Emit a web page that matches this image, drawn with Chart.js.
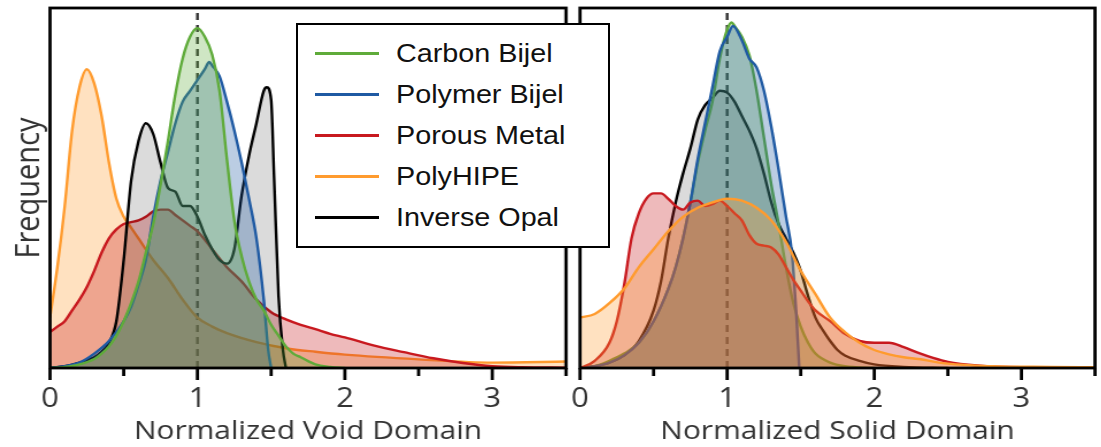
<!DOCTYPE html>
<html>
<head>
<meta charset="utf-8">
<script src="https://cdn.jsdelivr.net/npm/chart.js@4.4.1/dist/chart.umd.min.js"></script>
<style>
  html, body { margin:0; padding:0; background:#fff; }
  #wrap { position:relative; width:1101px; height:447px; overflow:hidden; }
  /* the source figure is stretched ~1.15x sideways, so the canvases are too */
  .stretch { position:absolute; top:0; transform:scaleX(1.15); transform-origin:0 0; }
  #legend { position:absolute; left:296px; top:23px; width:314px; height:225px; box-sizing:border-box;
            border:2.5px solid #000; background:#fff; font:25px "Liberation Sans", Arial, sans-serif; color:#111; }
  #legend .row { position:absolute; left:17px; height:30px; display:flex; align-items:center; white-space:nowrap; }
  #legend .sw { width:64px; height:3px; margin-right:17px; }
  #legend .tx { display:inline-block; transform:scaleX(1.15); transform-origin:0 50%; }
</style>
</head>
<body>
<div id="wrap">
  <div class="stretch" style="left:0"><canvas id="voidChart" width="505" height="447"></canvas></div>
  <div class="stretch" style="left:555px"><canvas id="solidChart" width="476" height="447"></canvas></div>
  <div id="legend"></div>
</div>
<script>
// series names + colours (legend order)
const names = ['Carbon Bijel','Polymer Bijel','Porous Metal','PolyHIPE','Inverse Opal'];
const lineColors = ['#5fab3a','#1f5aa3','#c8191f','#ff9b2e','#000000'];
const fillColors = ['rgba(95,171,58,0.3)','rgba(31,90,163,0.3)','rgba(200,25,31,0.3)','rgba(255,155,46,0.3)','rgba(0,0,0,0.14)'];
const xTickLabels = ['0','1','2','3'];

// Normalized Void Domain  [x, frequency]
const voidCarbon = [[0,0],[0.1,0.003],[0.2,0.01],[0.3,0.025],[0.35,0.04],[0.4,0.06],[0.45,0.09],[0.5,0.13],[0.55,0.18],[0.6,0.24],[0.65,0.32],[0.7,0.40],[0.75,0.51],[0.8,0.63],[0.85,0.76],[0.9,0.86],[0.95,0.92],[1.0,0.944],[1.05,0.92],[1.1,0.87],[1.15,0.77],[1.2,0.58],[1.25,0.41],[1.3,0.31],[1.35,0.24],[1.4,0.19],[1.45,0.16],[1.5,0.12],[1.55,0.09],[1.6,0.06],[1.65,0.04],[1.7,0.03],[1.8,0.01],[1.9,0.003],[2.0,0]];
const voidPolymer = [[0,0],[0.1,0.005],[0.2,0.015],[0.3,0.04],[0.4,0.075],[0.5,0.13],[0.55,0.17],[0.6,0.23],[0.65,0.30],[0.7,0.42],[0.75,0.52],[0.8,0.60],[0.85,0.68],[0.9,0.74],[0.95,0.77],[1.0,0.80],[1.05,0.83],[1.08,0.85],[1.1,0.84],[1.15,0.81],[1.2,0.74],[1.25,0.66],[1.3,0.57],[1.35,0.47],[1.4,0.36],[1.45,0.19],[1.48,0.05],[1.5,0]];
const voidMetal = [[0,0.10],[0.05,0.115],[0.1,0.13],[0.15,0.16],[0.2,0.19],[0.25,0.225],[0.3,0.27],[0.35,0.32],[0.4,0.36],[0.45,0.385],[0.5,0.40],[0.55,0.405],[0.6,0.41],[0.65,0.42],[0.7,0.435],[0.75,0.44],[0.8,0.44],[0.85,0.425],[0.9,0.41],[0.95,0.395],[1.0,0.38],[1.1,0.33],[1.2,0.28],[1.3,0.24],[1.4,0.19],[1.5,0.155],[1.6,0.135],[1.7,0.12],[1.8,0.108],[1.9,0.095],[2.0,0.085],[2.2,0.062],[2.4,0.044],[2.6,0.027],[2.8,0.014],[3.0,0.005],[3.2,0.002],[3.5,0.001]];
const voidHipe = [[0,0.14],[0.05,0.28],[0.1,0.45],[0.15,0.66],[0.2,0.78],[0.25,0.83],[0.3,0.79],[0.35,0.70],[0.4,0.57],[0.45,0.47],[0.5,0.42],[0.55,0.39],[0.6,0.36],[0.7,0.30],[0.8,0.25],[0.9,0.19],[1.0,0.14],[1.1,0.115],[1.2,0.097],[1.4,0.072],[1.6,0.055],[1.8,0.045],[2.0,0.037],[2.5,0.024],[3.0,0.015],[3.5,0.018]];
const voidOpal = [[0,0],[0.1,0.005],[0.2,0.015],[0.3,0.03],[0.35,0.045],[0.4,0.07],[0.45,0.13],[0.5,0.30],[0.55,0.52],[0.6,0.63],[0.65,0.68],[0.7,0.65],[0.75,0.57],[0.8,0.50],[0.85,0.49],[0.9,0.45],[0.95,0.45],[1.0,0.42],[1.05,0.37],[1.1,0.33],[1.15,0.30],[1.2,0.29],[1.25,0.33],[1.3,0.48],[1.35,0.59],[1.4,0.68],[1.45,0.77],[1.47,0.78],[1.5,0.745],[1.52,0.53],[1.55,0.20],[1.58,0.05],[1.6,0]];

// Normalized Solid Domain  [x, frequency]
const solidCarbon = [[0,0],[0.1,0.005],[0.2,0.02],[0.3,0.04],[0.4,0.07],[0.5,0.13],[0.6,0.22],[0.65,0.28],[0.7,0.36],[0.75,0.46],[0.8,0.57],[0.85,0.66],[0.9,0.74],[0.95,0.86],[1.0,0.94],[1.03,0.96],[1.05,0.95],[1.1,0.92],[1.15,0.87],[1.2,0.77],[1.25,0.64],[1.3,0.51],[1.35,0.40],[1.4,0.28],[1.45,0.18],[1.5,0.115],[1.55,0.07],[1.6,0.04],[1.7,0.015],[1.8,0.005],[2.0,0]];
const solidPolymer = [[0,0],[0.1,0.005],[0.2,0.015],[0.3,0.035],[0.4,0.07],[0.5,0.13],[0.6,0.22],[0.65,0.28],[0.7,0.36],[0.75,0.46],[0.8,0.58],[0.85,0.68],[0.9,0.78],[0.95,0.88],[1.0,0.92],[1.04,0.95],[1.1,0.91],[1.15,0.86],[1.2,0.835],[1.25,0.77],[1.3,0.67],[1.35,0.55],[1.4,0.42],[1.44,0.32],[1.47,0.15],[1.49,0]];
const solidMetal = [[0,0],[0.1,0.02],[0.2,0.07],[0.25,0.13],[0.3,0.23],[0.35,0.36],[0.4,0.43],[0.45,0.47],[0.5,0.485],[0.55,0.485],[0.6,0.47],[0.65,0.45],[0.7,0.44],[0.75,0.46],[0.8,0.465],[0.85,0.45],[0.9,0.455],[0.95,0.465],[1.0,0.45],[1.05,0.43],[1.1,0.41],[1.15,0.37],[1.2,0.345],[1.25,0.34],[1.3,0.335],[1.35,0.315],[1.4,0.28],[1.45,0.245],[1.5,0.215],[1.55,0.185],[1.6,0.16],[1.7,0.13],[1.8,0.095],[1.9,0.075],[2.0,0.07],[2.1,0.07],[2.2,0.058],[2.3,0.042],[2.4,0.028],[2.5,0.017],[2.7,0.007],[3.0,0.002],[3.5,0.001]];
const solidHipe = [[0,0.14],[0.1,0.15],[0.2,0.18],[0.3,0.22],[0.4,0.28],[0.5,0.33],[0.6,0.38],[0.7,0.42],[0.8,0.445],[0.9,0.46],[1.0,0.47],[1.1,0.465],[1.2,0.445],[1.3,0.41],[1.4,0.35],[1.5,0.27],[1.6,0.205],[1.7,0.14],[1.8,0.10],[1.9,0.07],[2.0,0.05],[2.1,0.038],[2.2,0.03],[2.3,0.025],[2.5,0.012],[2.8,0.005],[3.2,0.003],[3.5,0.002]];
const solidOpal = [[0,0],[0.1,0.005],[0.2,0.015],[0.3,0.035],[0.4,0.075],[0.5,0.16],[0.55,0.24],[0.6,0.36],[0.65,0.46],[0.7,0.54],[0.75,0.61],[0.8,0.69],[0.85,0.73],[0.9,0.75],[0.95,0.77],[1.0,0.765],[1.05,0.74],[1.1,0.70],[1.15,0.66],[1.2,0.61],[1.25,0.54],[1.3,0.46],[1.35,0.40],[1.4,0.36],[1.45,0.32],[1.5,0.27],[1.55,0.20],[1.6,0.14],[1.65,0.105],[1.7,0.075],[1.75,0.05],[1.8,0.035],[1.9,0.02],[2.0,0.01],[2.2,0.003],[2.5,0]];

// legend (spans both panels, so plain html on top)
const leg = document.getElementById('legend');
names.forEach((n,i)=>{
  const r = document.createElement('div'); r.className='row'; r.style.top = (13 + i*41) + 'px';
  r.innerHTML = `<span class="sw" style="background:${lineColors[i]}"></span><span class="tx">${n}</span>`;
  leg.appendChild(r);
});

const frame = {
  id:'frame',
  afterDatasetsDraw(chart){
    const {ctx, chartArea:a, scales:{x}} = chart;
    ctx.save(); ctx.strokeStyle='#000'; ctx.lineWidth=2.8;
    ctx.strokeRect(a.left, a.top, a.right-a.left, a.bottom-a.top);
    x.ticks.forEach(t=>{
      const px = x.getPixelForValue(t.value);
      const len = Number.isInteger(t.value) ? 12 : 8;
      ctx.beginPath(); ctx.moveTo(px, a.bottom); ctx.lineTo(px, a.bottom+len); ctx.stroke();
    });
    ctx.restore();
  }
};

const pts = arr => arr.map(([x,y])=>({x,y}));
function ds(i, arr, order){
  return { label:names[i], data:pts(arr), borderColor:lineColors[i], backgroundColor:fillColors[i], borderWidth:2.4,
           fill:'origin', pointRadius:0, cubicInterpolationMode:'monotone', order };
}
const dashLine = { data:[{x:1,y:0},{x:1,y:1}], borderColor:'#333', borderDash:[7,5], borderWidth:2.4, pointRadius:0, fill:false, order:10 };

function make(id, datasets, xTitle, yTitle, yWidth, padRight){
  return new Chart(document.getElementById(id), {
    type:'line',
    data:{ datasets:[dashLine, ...datasets] },
    options:{
      responsive:false, animation:false,
      layout:{ padding:{ top:8, right:padRight, left:0, bottom:0 } },
      plugins:{ legend:{display:false}, tooltip:{enabled:false} },
      scales:{
        x:{ type:'linear', min:0, max:3.5,
            ticks:{ stepSize:0.5, autoSkip:false, maxRotation:0, padding:3, color:'#333',
                    font:{family:'Open Sans', size:27},
                    callback:v=> Number.isInteger(v) ? xTickLabels[v] : '' },
            grid:{ display:true, drawOnChartArea:false, tickLength:12, color:'rgba(0,0,0,0)' },
            border:{ display:false },
            title:{ display:true, text:xTitle, color:'#333', padding:0, font:{family:'Open Sans', size:26} },
            afterFit:s=>{ s.height = 79; } },
        y:{ min:0, max:1,
            ticks:{ display:false }, grid:{ display:false }, border:{ display:false },
            title:{ display:!!yTitle, text:yTitle, color:'#333', padding:{top:8, bottom:0}, font:{family:'Open Sans', size:29} },
            afterFit:s=>{ s.width = yWidth; } }
      }
    },
    plugins:[frame]
  });
}

const K = 1.15; // sideways stretch
// draw order: higher order = further back
make('voidChart', [
  ds(0, voidCarbon, 1), ds(1, voidPolymer, 2), ds(4, voidOpal, 3), ds(2, voidMetal, 4), ds(3, voidHipe, 5)
], 'Normalized Void Domain', 'Frequency', 50/K, 505 - 566/K);

make('solidChart', [
  ds(3, solidHipe, 1), ds(2, solidMetal, 2), ds(1, solidPolymer, 3), ds(0, solidCarbon, 4), ds(4, solidOpal, 5)
], 'Normalized Solid Domain', '', 25/K, 476 - 540/K);
</script>
</body>
</html>
